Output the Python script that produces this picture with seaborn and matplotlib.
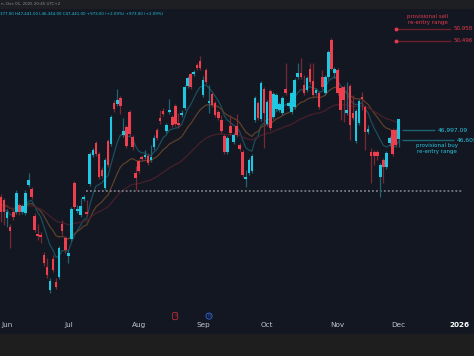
import numpy as np
import pandas as pd
import matplotlib
matplotlib.use("Agg")
import matplotlib.pyplot as plt
import matplotlib.transforms as mtransforms
from matplotlib.patches import Rectangle
import seaborn as sns

# daily candles, end of May -> 1 Dec 2025 (prices)
opens = [44377, 44260, 43556, 43204, 43791, 43791, 44064, 43791, 43752, 44846,
         44690, 43634, 42931, 42892, 42110, 41640, 40741, 41953, 41054, 41249,
         43322, 42774, 42070, 42735, 44925, 43830, 43674, 44299, 43791, 44886,
         46020, 46489, 46059, 45433, 44729, 46567, 46450, 48053, 48014, 48248,
         46802, 47114, 47701, 46723, 45316, 45785, 45941, 45941, 45980, 45824,
         46332, 46997, 47466, 47740, 46958, 47701, 47505, 47935, 47271, 47584,
         47857, 48717, 49187, 49187, 49538, 49695, 48365, 49343, 48053, 48405,
         48053, 47701, 47388, 46762, 46137, 47153, 46528, 47153, 46411, 46137,
         45081, 45316, 45394, 47388, 48053, 47427, 48600, 47232, 48522, 47505,
         47818, 47779, 47662, 48600, 47935, 47701, 47896, 49069, 49226, 48756,
         48561, 49382, 48913, 48444, 48444, 49069, 48444, 49069, 50516, 49226,
         49343, 48639, 48678, 47662, 48717, 47662, 46567, 47271, 48287, 47896,
         46919, 46137, 46137, 46137, 45159, 45824, 45550, 46489, 46997, 46997,
         46645]
highs = [44495, 44338, 43908, 43322, 43908, 44651, 44143, 44104, 44651, 45316,
         44768, 43752, 43322, 43009, 42227, 41992, 41210, 42110, 41210, 42461,
         43478, 42852, 42305, 43986, 45003, 44064, 44338, 44455, 44260, 46137,
         46293, 46567, 46137, 45550, 45902, 46645, 47584, 48170, 48600, 48326,
         47466, 47193, 47779, 46802, 45589, 45863, 46020, 46215, 46098, 46411,
         46802, 47075, 47779, 47857, 47271, 48209, 47584, 48014, 47662, 47779,
         48756, 49108, 49265, 49343, 49617, 49890, 49108, 49421, 48756, 48483,
         48131, 47779, 47584, 46841, 46762, 47584, 46880, 47623, 46489, 46215,
         45433, 45902, 46059, 48326, 48131, 48913, 48678, 48170, 48600, 48483,
         48444, 48092, 48326, 49617, 48131, 48522, 49030, 49617, 49812, 49147,
         49108, 49617, 49617, 48639, 48522, 49343, 49147, 50125, 50594, 49460,
         49421, 48717, 48756, 48874, 48796, 48365, 47818, 48209, 48483, 47975,
         47193, 46293, 46215, 46215, 45707, 45902, 46176, 46762, 47075, 47075,
         47441]
lows = [43400, 43283, 43204, 42383, 43478, 43713, 43674, 43713, 43674, 44768,
        44299, 43009, 42696, 42579, 41679, 41210, 40624, 41445, 40780, 41171,
        42892, 42188, 41797, 42657, 43908, 43752, 43595, 44221, 43634, 44807,
        45941, 45980, 45081, 45120, 44651, 45550, 46371, 47701, 47935, 47623,
        46723, 46293, 46762, 46215, 44651, 45316, 45785, 45863, 45629, 45746,
        46215, 46606, 47232, 47544, 46880, 47623, 47114, 47153, 47075, 47505,
        47779, 48639, 48600, 49108, 49343, 49343, 48287, 48796, 47662, 47896,
        47505, 47388, 46880, 46059, 46059, 46802, 46450, 46723, 46176, 45159,
        44768, 45238, 45316, 47310, 47388, 47349, 46293, 47153, 46997, 47427,
        47740, 47701, 47584, 48365, 47857, 47623, 47818, 48991, 48991, 48365,
        48483, 48796, 48287, 48365, 47818, 48600, 48365, 48991, 49343, 49030,
        48365, 47388, 47310, 47584, 46606, 47388, 46489, 47193, 47779, 46215,
        46841, 44925, 45629, 45824, 44377, 44925, 45472, 46371, 45980, 46332,
        46344]
closes = [43791, 43791, 43791, 43048, 43595, 44534, 43791, 44025, 44534, 45042,
          44377, 43087, 42852, 42813, 41797, 41328, 41093, 41523, 40858, 42383,
          43048, 42305, 42188, 43908, 43986, 43908, 44025, 44377, 43713, 46059,
          46215, 46059, 45159, 45198, 45824, 45629, 47505, 47818, 48170, 47935,
          46958, 46371, 46841, 46332, 45120, 45394, 45863, 46020, 45707, 45941,
          46684, 46684, 47349, 47623, 47193, 47779, 47193, 47232, 47193, 47662,
          48678, 49030, 48678, 49265, 49421, 49421, 48952, 48874, 48131, 47975,
          47584, 47466, 46958, 46137, 46684, 46880, 46802, 46802, 46254, 45238,
          45159, 45824, 45980, 48248, 47466, 48835, 47662, 48092, 47075, 48405,
          48365, 48014, 48248, 48444, 48053, 48444, 48952, 49226, 49069, 48444,
          49030, 48874, 48365, 48561, 47896, 48678, 49069, 50047, 49382, 49382,
          48444, 47779, 48170, 47779, 47193, 47466, 47740, 48131, 48209, 46919,
          47036, 45980, 45980, 45980, 45629, 45550, 46098, 46684, 46059, 46411,
          47441]

month_ticks = [2, 22, 45, 66, 87, 110, 130, 150]
month_labels = ["Jun", "Jul", "Aug", "Sep", "Oct", "Nov", "Dec", "2026"]

ema_periods = [9, 21, 50]
ema_seeds = [43900, 44100, 44010]   # averages carried in from before the window

sell_levels = [50958.0, 50496.0]
buy_levels = [46997.09, 46605.0]
support_level = 44612.0

BG = "#131722"
UP, DOWN = "#1fc7e0", "#ee3f4e"
UP_WICK, DOWN_WICK = "#1d6572", "#7a2833"
EMA_COLORS = ["#1a4f5b", "#5c4029", "#47202c"]

sns.set_theme(style="dark", rc={"axes.facecolor": BG, "figure.facecolor": BG})
plt.rcParams["font.family"] = ["DejaVu Sans"]

df = pd.DataFrame({"open": opens, "high": highs, "low": lows, "close": closes})
df["idx"] = np.arange(len(df))
up = df["close"] >= df["open"]

fig = plt.figure(figsize=(4.74, 3.56), dpi=100)
ax = fig.add_axes([0, 22 / 356, 1, 326 / 356])

# moving averages
for period, seed, col in zip(ema_periods, ema_seeds, EMA_COLORS):
    ema = pd.Series([seed] + closes, dtype=float).ewm(span=period, adjust=False).mean().iloc[1:]
    sns.lineplot(x=df["idx"], y=ema.values, ax=ax, color=col, lw=0.9, zorder=1)

# candles
for mask, body_c, wick_c in [(up, UP, UP_WICK), (~up, DOWN, DOWN_WICK)]:
    d = df[mask]
    ax.vlines(d["idx"], d["low"], d["high"], color=wick_c, lw=0.9, zorder=2)
    ax.bar(d["idx"], (d["close"] - d["open"]).abs().clip(lower=40),
           bottom=np.minimum(d["open"], d["close"]), width=0.84,
           color=body_c, linewidth=0, zorder=3)

# support line
ax.hlines(support_level, 27.8, 151, color="#8a8d96", lw=1.1,
          linestyles=(0, (1.2, 1.4)), zorder=1)

# sell re-entry range
for lvl in sell_levels:
    ax.hlines(lvl, 129.1, 147.2, color="#6a1f2b", lw=1.0, zorder=4)
    ax.plot(129.1, lvl, "o", ms=1.8, color="#e23a4b", zorder=5)
    ax.text(148.0, lvl, f"{lvl:,.0f}", color="#e23a4b", fontsize=4.1,
            va="center", ha="left", zorder=5)
ax.text(139.5, 51318, "provisional sell\nre-entry range", color="#e23a4b",
        fontsize=4.0, ha="center", va="center", linespacing=1.1)

# buy re-entry range
ax.hlines(buy_levels[0], 131.0, 141.8, color="#1b6470", lw=1.0, zorder=4)
ax.hlines(buy_levels[1], 131.0, 148.0, color="#1b6470", lw=1.0, zorder=4)
ax.text(142.8, buy_levels[0], f"{buy_levels[0]:,.2f}", color="#2ac6dc",
        fontsize=4.3, va="center", ha="left")
ax.text(148.9, buy_levels[1], f"{buy_levels[1]:,.2f}", color="#2ac6dc",
        fontsize=4.3, va="center", ha="left")
ax.text(142.5, 46274, "provisional buy\nre-entry range", color="#2ac6dc",
        fontsize=4.0, ha="center", va="center", linespacing=1.1)

# event markers on the time axis
trans = mtransforms.blended_transform_factory(ax.transData, ax.transAxes)
ax.text(56.9, 0.055, "!", transform=trans, color="#c0303d", fontsize=3.2,
        ha="center", va="center", fontweight="bold",
        bbox=dict(boxstyle="round,pad=0.35", fc="none", ec="#a82a36", lw=0.7))
ax.text(68.0, 0.055, "D", transform=trans, color="#2f5fd0", fontsize=3.0,
        ha="center", va="center",
        bbox=dict(boxstyle="circle,pad=0.25", fc="none", ec="#2f5fd0", lw=0.7))

ax.set_xlim(-0.33, 154.6)
ax.set_ylim(39021, 51767)
ax.set_xticks(month_ticks)
ax.set_xticklabels(month_labels)
ax.tick_params(axis="x", direction="in", length=0, pad=-8.5, labelsize=5.2,
               labelcolor="#c3c6ce")
for lab in ax.get_xticklabels():
    if lab.get_text() == "2026":
        lab.set_fontweight("bold")
        lab.set_color("white")
ax.set_yticks([])
ax.set_xlabel("")
ax.set_ylabel("")
ax.grid(False)
for s in ax.spines.values():
    s.set_visible(False)

# header and footer bands
fig.patches.append(Rectangle((0, 1 - 8 / 356), 1, 8 / 356, transform=fig.transFigure,
                             color="#1e1f22", zorder=0))
fig.patches.append(Rectangle((0, 0), 1, 22 / 356, transform=fig.transFigure,
                             color="#1e1e1e", zorder=0))
fig.text(0.002, 1 - 4 / 356, "n, Dec 01, 2025 20:45 UTC+2", color="#8c8f98",
         fontsize=2.9, va="center", ha="left")
fig.text(0.0, 1 - 14 / 356,
         "377.00 H47,441.00 L46,344.00 C47,441.00 +973.00 (+2.09%) +973.00 (+2.09%)",
         color="#22c3da", fontsize=2.9, va="center", ha="left")

fig.savefig("out.png", dpi=100, facecolor=BG)
